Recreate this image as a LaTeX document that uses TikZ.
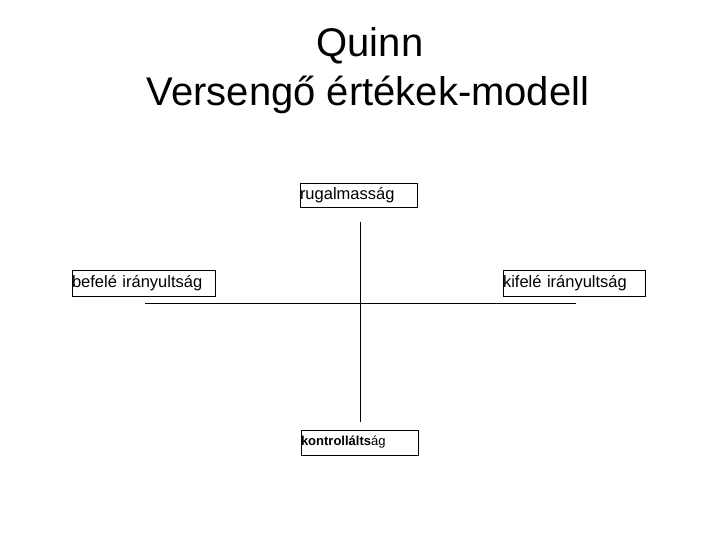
\documentclass[tikz,border=0pt]{standalone}
\usepackage{fontspec}
\setmainfont{Liberation Sans}
\begin{document}
\begin{tikzpicture}[x=1pt,y=-1pt,
  lbl/.style={draw=black,line width=0.8pt,font=\fontsize{16.5}{18}\selectfont,inner sep=0pt,text width=#1,align=left,anchor=center},
  ttl/.style={font=\fontsize{40}{46}\selectfont,anchor=center}]
\useasboundingbox[fill=white] (0,0) rectangle (720,540);
\node[ttl] (t1) at (370,46) {Quinn};
\node[ttl] (t2) at (368,95) {Versengő értékek-modell};
\node[lbl=117pt,minimum height=24pt] (top) at (358.5,195) {rugalmasság};
\node[lbl=143pt,minimum height=26pt] (left) at (143.5,283) {befelé irányultság};
\node[lbl=142pt,minimum height=26pt] (right) at (574,283) {kifelé irányultság};
\node[lbl=117pt,minimum height=25pt,font=\fontsize{13}{15}\selectfont\bfseries] (bot) at (359.5,442.5) {kontrollálts\mdseries ág};
\coordinate (vt) at (360,222);
\coordinate (vb) at (360,422);
\coordinate (hl) at (145,303);
\coordinate (hr) at (576,303);
\draw[line width=0.8pt] (vt) -- (vb);
\draw[line width=0.8pt] (hl) -- (hr);
\end{tikzpicture}
\end{document}
